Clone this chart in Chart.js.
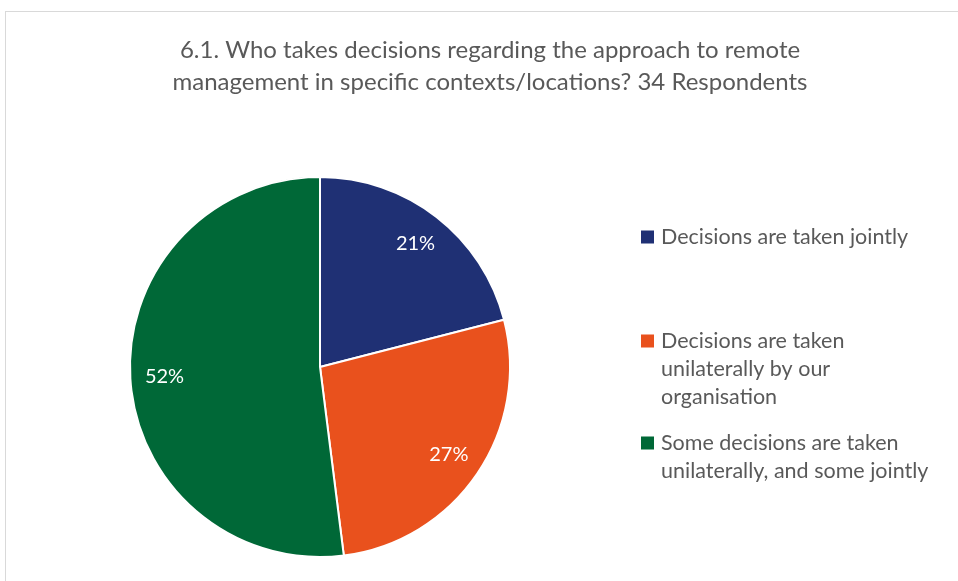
<!DOCTYPE html>
<html>
<head>
<meta charset="utf-8">
<title>Remote management decisions</title>
<script src="https://cdn.jsdelivr.net/npm/chart.js@4.4.1/dist/chart.umd.min.js"></script>
<style>
  html, body { margin: 0; padding: 0; background: #fff; overflow: hidden; }
  .frame {
    position: absolute; left: 5px; top: 11px; width: 1000px; height: 620px;
    border-top: 1px solid #d9d9d9; border-left: 1px solid #d9d9d9;
  }
  #chart { position: absolute; left: 0; top: 0; }
</style>
</head>
<body>
<div class="frame"><canvas id="chart" width="968" height="569"></canvas></div>
<script>
// chart data
const titleLines = [
	'6.1. Who takes decisions regarding the approach to remote',
	'management in specific contexts/locations? 34 Respondents',
];
const categories = [
	[ 'Decisions are taken jointly' ],
	[ 'Decisions are taken', 'unilaterally by our', 'organisation' ],
	[ 'Some decisions are taken', 'unilaterally, and some jointly' ],
];
const shares = [ 21, 27, 52 ];
const sliceColors = [ '#1f3074', '#e9511d', '#006837' ];

const FONT = 'Lato, "Open Sans", sans-serif';
const TEXT_GREY = '#595959';

// percentage labels inside the slices
const sliceLabels = {
	id: 'sliceLabels',
	afterDatasetsDraw( chart, args, opts ) {
		const { ctx } = chart;
		const meta = chart.getDatasetMeta( 0 );
		ctx.save();
		ctx.fillStyle = '#fff';
		ctx.font = opts.size + 'px ' + FONT;
		ctx.textAlign = 'center';
		ctx.textBaseline = 'middle';
		meta.data.forEach( ( arc, i ) => {
			const p = arc.getProps( [ 'x', 'y', 'startAngle', 'endAngle', 'outerRadius' ], true );
			const mid = ( p.startAngle + p.endAngle ) / 2;
			const r = p.outerRadius * opts.distance;
			ctx.fillText( shares[ i ] + '%', p.x + Math.cos( mid ) * r, p.y + Math.sin( mid ) * r );
		} );
		ctx.restore();
	},
};

// legend on the right, added as a layout box so the pie shifts left
// while the title stays centred on the whole frame
const sideLegend = {
	id: 'sideLegend',
	beforeInit( chart, args, opts ) {
		const box = {
			position: 'right',
			weight: 0,
			fullSize: false,
			options: {},
			left: 0, top: 0, right: 0, bottom: 0, width: 0, height: 0,
			isHorizontal() {
				return false;
			},
			update( maxWidth, maxHeight ) {
				this.width = opts.width;
				this.height = maxHeight;
			},
			draw() {
				const { ctx } = chart;
				ctx.save();
				ctx.font = opts.size + 'px ' + FONT;
				ctx.textBaseline = 'middle';
				categories.forEach( ( lines, i ) => {
					const y0 = opts.itemY[ i ];
					ctx.fillStyle = sliceColors[ i ];
					ctx.fillRect( this.left + 7, y0 - 6.5, 13, 13 );
					ctx.fillStyle = TEXT_GREY;
					lines.forEach( ( t, j ) => {
						ctx.fillText( t, this.left + 27, y0 + j * opts.lineGap );
					} );
				} );
				ctx.restore();
			},
		};
		Chart.layouts.addBox( chart, box );
	},
};

new Chart( document.getElementById( 'chart' ), {
	type: 'pie',
	data: {
		labels: categories,
		datasets: [
			{
				data: shares,
				backgroundColor: sliceColors,
				borderColor: '#fff',
				borderWidth: 2,
				radius: 190,
			},
		],
	},
	options: {
		responsive: false,
		animation: false,
		layout: {
			padding: { left: 0, right: 0, top: 0, bottom: 24 },
		},
		plugins: {
			legend: { display: false },
			tooltip: { enabled: false },
			title: {
				display: true,
				text: titleLines,
				color: TEXT_GREY,
				font: { family: FONT, size: 24, weight: 'normal', lineHeight: 1.3333 },
				padding: { top: 22, bottom: 79 },
			},
			sliceLabels: { size: 20, distance: 0.82 },
			sideLegend: { width: 340, size: 21.5, lineGap: 28, itemY: [ 225, 329, 431 ] },
		},
	},
	plugins: [ sliceLabels, sideLegend ],
} );
</script>
</body>
</html>
